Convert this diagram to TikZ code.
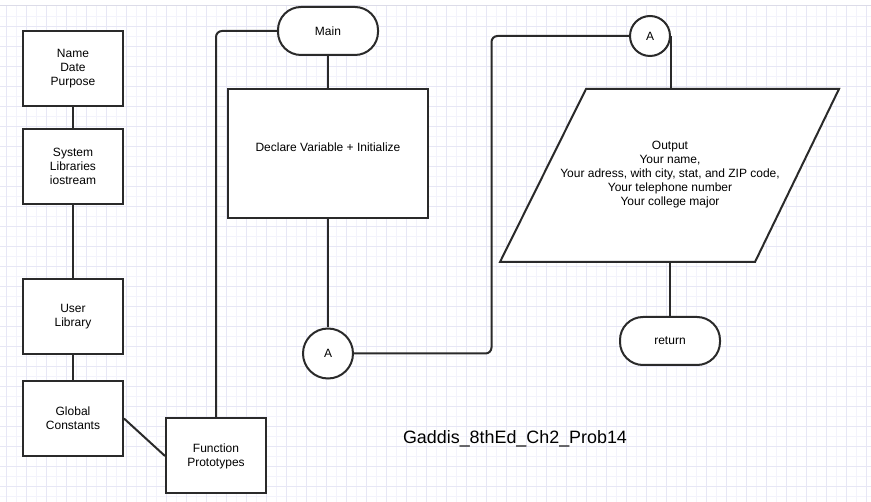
\documentclass[tikz,border=0pt]{standalone}
\usepackage{fontspec}
\setmainfont{Liberation Sans}
\usetikzlibrary{calc}
\definecolor{lineC}{HTML}{2A2A2A}
\definecolor{gridMinor}{HTML}{F3F3FB}
\definecolor{gridMajor}{HTML}{E7E7F5}
\definecolor{topLine}{HTML}{DCDCE8}
\tikzset{
  box/.style={draw=lineC, line width=2pt, fill=white, minimum width=100pt, minimum height=75pt, inner sep=0pt, align=center, font=\fontsize{12}{14}\selectfont},
  bigbox/.style={box, minimum width=200pt, minimum height=129pt},
  term/.style={box, minimum width=100pt, minimum height=48pt, rounded corners=23pt},
  conn/.style={draw=lineC, circle, line width=2pt, fill=white, inner sep=0pt, font=\fontsize{12}{14}\selectfont},
  wire/.style={draw=lineC, line width=2pt},
  lbl/.style={align=center, font=\fontsize{12}{14}\selectfont, inner sep=0pt}
}
\begin{document}
\begin{tikzpicture}[x=1pt,y=-1pt]
\useasboundingbox (0,0) rectangle (871,502);
\fill[white] (0,0) rectangle (871,502);
% grid
\foreach \x in {6,16,...,866} \draw[gridMinor, line width=0.8pt] (\x,6) -- (\x,502);
\foreach \y in {16,26,...,496} \draw[gridMinor, line width=0.8pt] (0,\y) -- (871,\y);
\foreach \x in {6,26,...,866} \draw[gridMajor, line width=0.8pt] (\x,6) -- (\x,502);
\foreach \y in {26,46,...,486} \draw[gridMajor, line width=0.8pt] (0,\y) -- (871,\y);
\draw[topLine, line width=1.5pt] (0,5.5) -- (871,5.5);

% left column
\node[box] (ndp) at (73,68.5) {Name\\Date\\Purpose};
\node[box] (sys) at (73,166.5) {System\\Libraries\\iostream};
\node[box] (ulib) at (73,316.5) {User\\Library};
\node[box] (gc) at (73,418.5) {Global\\Constants};
\node[box] (fp) at (216,456) {Function\\Prototypes};

\draw[wire] (ndp.south) -- (sys.north);
\draw[wire] (sys.south) -- (ulib.north);
\draw[wire] (ulib.south) -- (gc.north);
\draw[wire] (gc.east) -- (fp.west);

% main column
\node[term] (main) at (328,31) {Main};
\node[bigbox] (decl) at (328,154) {};
\node[lbl] at (328,147) {Declare Variable + Initialize};
\node[conn, minimum size=50pt] (a1) at (328,353.5) {A};

\draw[wire, rounded corners=6pt] (fp.north) |- (main.west);
\draw[wire] (main.south) -- (decl.north);
\draw[wire] (decl.south) -- (a1.north);

% right column
\node[conn, minimum size=40pt] (a2) at (650,36) {A};
\coordinate (bend) at (491.5,36);
\draw[wire, rounded corners=6pt] (a1.east) -| (bend) -- (a2.west);

\draw[draw=lineC, line width=2pt, fill=white] (586,89) -- (839,89) -- (755,262) -- (500,262) -- cycle;
\coordinate (ptop) at (670,89);
\coordinate (pbot) at (670,262);
\node[lbl] (out) at (670,175) {Output\\Your name,\\Your adress, with city, stat, and ZIP code,\\Your telephone number\\Your college major};

\draw[wire] (a2.east) -- (a2.east |- ptop);
\node[term] (ret) at (670,341) {return};
\draw[wire] (pbot) -- (ret.north);

% title
\node[inner sep=0pt, font=\fontsize{17.9}{20}\selectfont] (title) at (515,439) {Gaddis\_8thEd\_Ch2\_Prob14};
\end{tikzpicture}
\end{document}
